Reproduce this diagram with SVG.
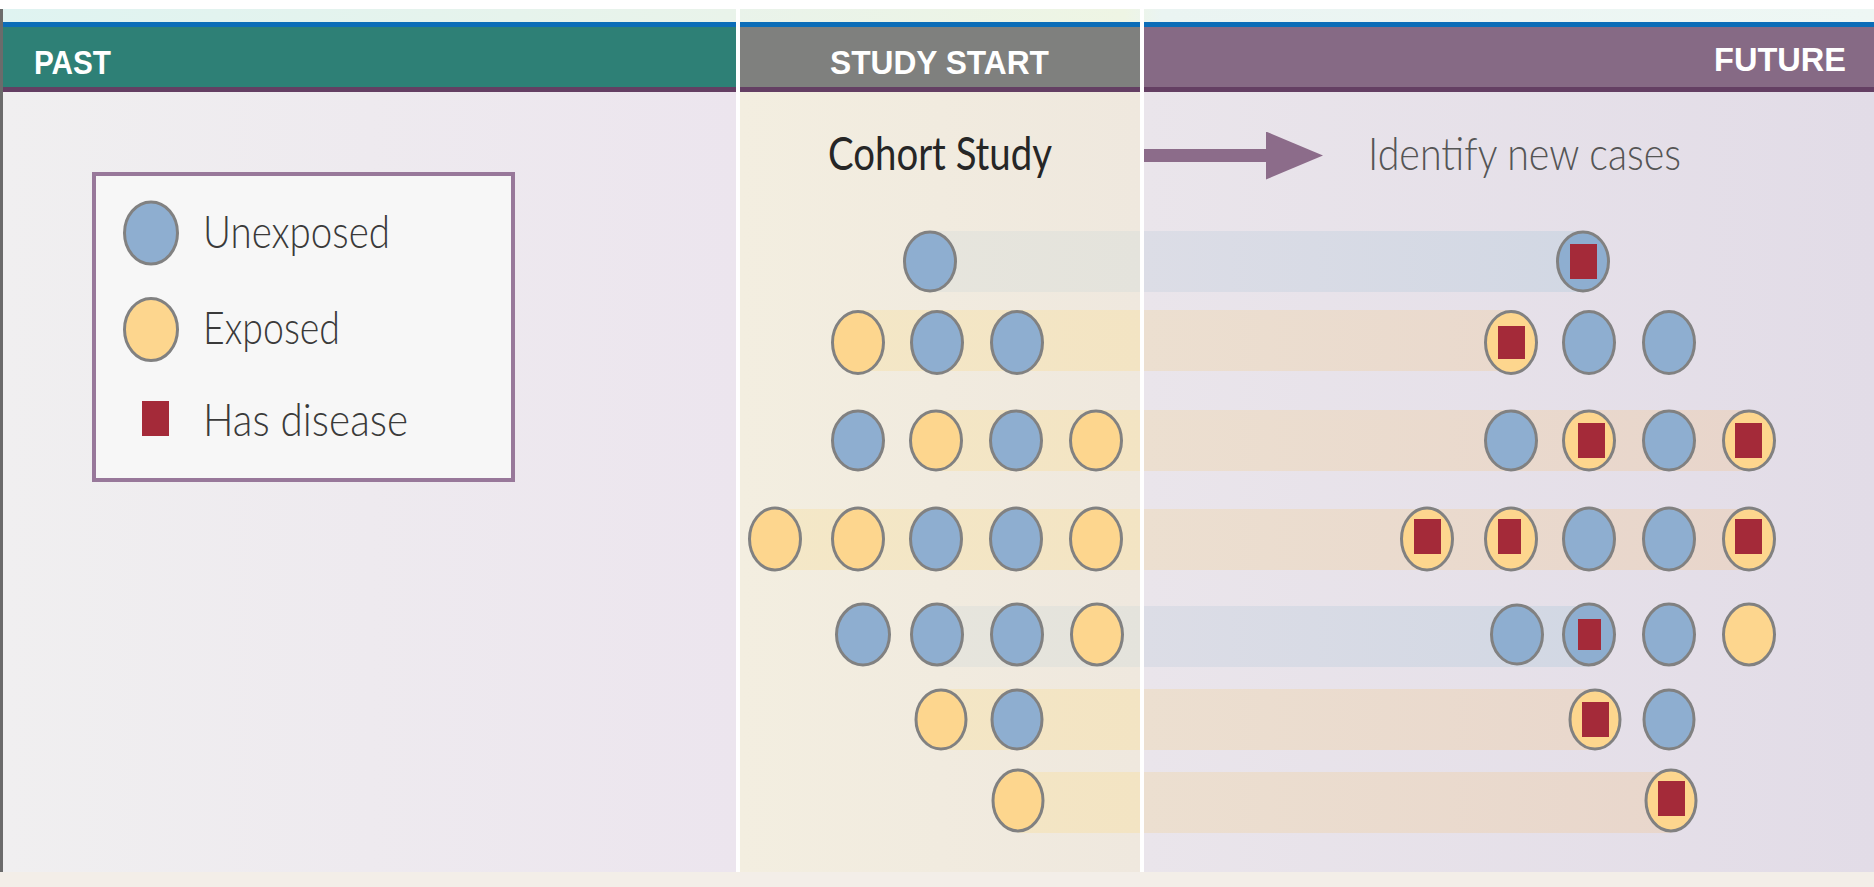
<svg xmlns="http://www.w3.org/2000/svg" width="1874" height="887" viewBox="0 0 1874 887">
<style>
.u{fill:#8eaed0;stroke:#818181;stroke-width:3}
.e{fill:#fdd68e;stroke:#818181;stroke-width:3}
.d{fill:#a42a39}
.hd{font-family:"Liberation Sans",Arial,sans-serif;font-weight:bold;font-size:33px;fill:#ffffff}
.lg{font-family:Lato,"Liberation Sans",sans-serif;font-weight:300;font-size:46px;fill:#3a3a3a}
.sep{fill:#ffffff}
</style>
<defs>
<linearGradient id="gPast" x1="0" y1="0" x2="1" y2="0"><stop offset="0" stop-color="#f0eff0"/><stop offset="1" stop-color="#ece5ee"/></linearGradient>
<linearGradient id="gStudy" x1="0" y1="0" x2="1" y2="0"><stop offset="0" stop-color="#f3eee0"/><stop offset="1" stop-color="#efe8de"/></linearGradient>
<linearGradient id="gFut" x1="0" y1="0" x2="1" y2="0"><stop offset="0" stop-color="#eae5eb"/><stop offset="1" stop-color="#e2dce7"/></linearGradient>
<linearGradient id="gTop" x1="0" y1="0" x2="1" y2="0"><stop offset="0" stop-color="#dff3f1"/><stop offset="0.39" stop-color="#e9f3ea"/><stop offset="0.6" stop-color="#eef5e4"/><stop offset="0.62" stop-color="#eaf4f2"/><stop offset="1" stop-color="#eef7f4"/></linearGradient>
<linearGradient id="bandY" gradientUnits="userSpaceOnUse" x1="740" y1="0" x2="1874" y2="0"><stop offset="0" stop-color="#f4e8c8"/><stop offset="0.3527" stop-color="#f3e4c3"/><stop offset="0.3563" stop-color="#ecdfd0"/><stop offset="1" stop-color="#e7d3ca"/></linearGradient>
<linearGradient id="bandB" gradientUnits="userSpaceOnUse" x1="740" y1="0" x2="1874" y2="0"><stop offset="0" stop-color="#e9e7de"/><stop offset="0.3527" stop-color="#e4e3dc"/><stop offset="0.3563" stop-color="#dcdde6"/><stop offset="1" stop-color="#cbd4e2"/></linearGradient>
<marker id="ah" markerUnits="userSpaceOnUse" markerWidth="58" markerHeight="50" refX="0" refY="24" orient="auto"><polygon points="0,0 57,24 0,48" fill="#8c6c8a"/></marker>
</defs>

<g id="background">
<rect x="0" y="0" width="1874" height="887" fill="#ffffff"/>
<rect x="0" y="9" width="1874" height="13" fill="url(#gTop)"/>
<rect x="0" y="22" width="1874" height="5" fill="#0b6db8"/>
<rect x="3" y="92" width="733" height="780" fill="url(#gPast)"/>
<rect x="740" y="92" width="400" height="780" fill="url(#gStudy)"/>
<rect x="1144" y="92" width="730" height="780" fill="url(#gFut)"/>
<rect x="0" y="872" width="1874" height="15" fill="#f3eee8"/>
<rect x="0" y="9" width="3" height="863" fill="#6b6b6b"/>
</g>

<g id="header-past">
<rect x="3" y="27" width="733" height="60" fill="#2e8076"/>
<rect x="3" y="87" width="733" height="5" fill="#643f63"/>
<text class="hd" x="34" y="74" textLength="77" lengthAdjust="spacingAndGlyphs">PAST</text>
</g>
<g id="header-study">
<rect x="740" y="27" width="400" height="60" fill="#7f807e"/>
<rect x="740" y="87" width="400" height="5" fill="#643f63"/>
<text class="hd" x="830" y="74" textLength="219" lengthAdjust="spacingAndGlyphs">STUDY START</text>
</g>
<g id="header-future">
<rect x="1144" y="27" width="730" height="60" fill="#866a85"/>
<rect x="1144" y="87" width="730" height="5" fill="#643f63"/>
<text class="hd" x="1714" y="71" textLength="132" lengthAdjust="spacingAndGlyphs">FUTURE</text>
</g>

<g id="legend">
<rect x="94" y="174" width="419" height="306" fill="#f7f7f7" stroke="#98789a" stroke-width="4"/>
<ellipse class="u" cx="151" cy="233" rx="26.5" ry="31"/>
<text class="lg" x="203" y="248" textLength="187" lengthAdjust="spacingAndGlyphs">Unexposed</text>
<ellipse class="e" cx="151" cy="329.5" rx="26.5" ry="31"/>
<text class="lg" x="203" y="344" textLength="137" lengthAdjust="spacingAndGlyphs">Exposed</text>
<rect class="d" x="142" y="401" width="27" height="35"/>
<text class="lg" x="203" y="436" textLength="205" lengthAdjust="spacingAndGlyphs">Has disease</text>
</g>

<g id="bands">
<rect x="930" y="231" width="653" height="61" fill="url(#bandB)"/>
<rect x="858" y="310" width="653" height="61" fill="url(#bandY)"/>
<rect x="936" y="410" width="813" height="61" fill="url(#bandY)"/>
<rect x="775" y="509" width="974" height="61" fill="url(#bandY)"/>
<rect x="937" y="606" width="652" height="61" fill="url(#bandB)"/>
<rect x="941" y="689" width="654" height="61" fill="url(#bandY)"/>
<rect x="1018" y="772" width="653" height="61" fill="url(#bandY)"/>
</g>

<g id="separators">
<rect class="sep" x="736" y="9" width="4" height="863"/>
<rect class="sep" x="1140" y="9" width="4" height="863"/>
</g>

<g id="label-cohort"><text x="828" y="170" font-family="Lato,'Liberation Sans',sans-serif" font-size="46" fill="#262626" textLength="224" lengthAdjust="spacingAndGlyphs">Cohort Study</text></g>
<g id="label-identify"><text x="1368" y="170" font-family="Lato,'Liberation Sans',sans-serif" font-weight="300" font-size="46" fill="#555555" textLength="313" lengthAdjust="spacingAndGlyphs">Identify new cases</text></g>

<g id="connectors">
<path id="arrow-cohort-identify" d="M1144,155.5 H1266" stroke="#8c6c8a" stroke-width="13" fill="none" marker-end="url(#ah)"/>
</g>

<g id="row1">
<g id="r1-s1"><ellipse class="u" cx="930" cy="261.5" rx="25.5" ry="29.5"/></g>
<g id="r1-f1"><ellipse class="u" cx="1583" cy="261.5" rx="25.5" ry="29.5"/><rect class="d" x="1570" y="244" width="27" height="35"/></g>
</g>
<g id="row2">
<g id="r2-s1"><ellipse class="e" cx="858" cy="342.5" rx="25.5" ry="31"/></g>
<g id="r2-s2"><ellipse class="u" cx="937" cy="342.5" rx="25.5" ry="31"/></g>
<g id="r2-s3"><ellipse class="u" cx="1017" cy="342.5" rx="25.5" ry="31"/></g>
<g id="r2-f1"><ellipse class="e" cx="1511" cy="342.5" rx="25.5" ry="31"/><rect class="d" x="1498" y="326" width="27" height="33"/></g>
<g id="r2-f2"><ellipse class="u" cx="1589" cy="342.5" rx="25.5" ry="31"/></g>
<g id="r2-f3"><ellipse class="u" cx="1669" cy="342.5" rx="25.5" ry="31"/></g>
</g>
<g id="row3">
<g id="r3-s1"><ellipse class="u" cx="858" cy="440.5" rx="25.5" ry="29.5"/></g>
<g id="r3-s2"><ellipse class="e" cx="936" cy="440.5" rx="25.5" ry="29.5"/></g>
<g id="r3-s3"><ellipse class="u" cx="1016" cy="440.5" rx="25.5" ry="29.5"/></g>
<g id="r3-s4"><ellipse class="e" cx="1096" cy="440.5" rx="25.5" ry="29.5"/></g>
<g id="r3-f1"><ellipse class="u" cx="1511" cy="440.5" rx="25.5" ry="29.5"/></g>
<g id="r3-f2"><ellipse class="e" cx="1589" cy="440.5" rx="25.5" ry="29.5"/><rect class="d" x="1578" y="423" width="27" height="35"/></g>
<g id="r3-f3"><ellipse class="u" cx="1669" cy="440.5" rx="25.5" ry="29.5"/></g>
<g id="r3-f4"><ellipse class="e" cx="1749" cy="440.5" rx="25.5" ry="29.5"/><rect class="d" x="1735" y="423" width="27" height="35"/></g>
</g>
<g id="row4">
<g id="r4-s1"><ellipse class="e" cx="775" cy="539" rx="25.5" ry="31"/></g>
<g id="r4-s2"><ellipse class="e" cx="858" cy="539" rx="25.5" ry="31"/></g>
<g id="r4-s3"><ellipse class="u" cx="936" cy="539" rx="25.5" ry="31"/></g>
<g id="r4-s4"><ellipse class="u" cx="1016" cy="539" rx="25.5" ry="31"/></g>
<g id="r4-s5"><ellipse class="e" cx="1096" cy="539" rx="25.5" ry="31"/></g>
<g id="r4-f1"><ellipse class="e" cx="1427" cy="539" rx="25.5" ry="31"/><rect class="d" x="1414" y="519" width="27" height="35"/></g>
<g id="r4-f2"><ellipse class="e" cx="1511" cy="539" rx="25.5" ry="31"/><rect class="d" x="1498" y="519" width="23" height="35"/></g>
<g id="r4-f3"><ellipse class="u" cx="1589" cy="539" rx="25.5" ry="31"/></g>
<g id="r4-f4"><ellipse class="u" cx="1669" cy="539" rx="25.5" ry="31"/></g>
<g id="r4-f5"><ellipse class="e" cx="1749" cy="539" rx="25.5" ry="31"/><rect class="d" x="1735" y="519" width="27" height="35"/></g>
</g>
<g id="row5">
<g id="r5-s1"><ellipse class="u" cx="863" cy="634.5" rx="26.5" ry="30.5"/></g>
<g id="r5-s2"><ellipse class="u" cx="937" cy="634.5" rx="25.5" ry="30.5"/></g>
<g id="r5-s3"><ellipse class="u" cx="1017" cy="634.5" rx="25.5" ry="30.5"/></g>
<g id="r5-s4"><ellipse class="e" cx="1097" cy="634.5" rx="25.5" ry="30.5"/></g>
<g id="r5-f1"><ellipse class="u" cx="1517" cy="634.5" rx="25.5" ry="29.5"/></g>
<g id="r5-f2"><ellipse class="u" cx="1589" cy="634.5" rx="25.5" ry="30.5"/><rect class="d" x="1578" y="619" width="23" height="31"/></g>
<g id="r5-f3"><ellipse class="u" cx="1669" cy="634.5" rx="25.5" ry="30.5"/></g>
<g id="r5-f4"><ellipse class="e" cx="1749" cy="634.5" rx="25.5" ry="30.5"/></g>
</g>
<g id="row6">
<g id="r6-s1"><ellipse class="e" cx="941" cy="719.5" rx="25" ry="29.5"/></g>
<g id="r6-s2"><ellipse class="u" cx="1017" cy="719.5" rx="25" ry="29.5"/></g>
<g id="r6-f1"><ellipse class="e" cx="1595" cy="719.5" rx="25" ry="29.5"/><rect class="d" x="1582" y="702" width="27" height="35"/></g>
<g id="r6-f2"><ellipse class="u" cx="1669" cy="719.5" rx="25" ry="29.5"/></g>
</g>
<g id="row7">
<g id="r7-s1"><ellipse class="e" cx="1018" cy="800.5" rx="25" ry="30.5"/></g>
<g id="r7-f1"><ellipse class="e" cx="1671" cy="800.5" rx="25" ry="30.5"/><rect class="d" x="1658" y="781" width="27" height="35"/></g>
</g>
</svg>
